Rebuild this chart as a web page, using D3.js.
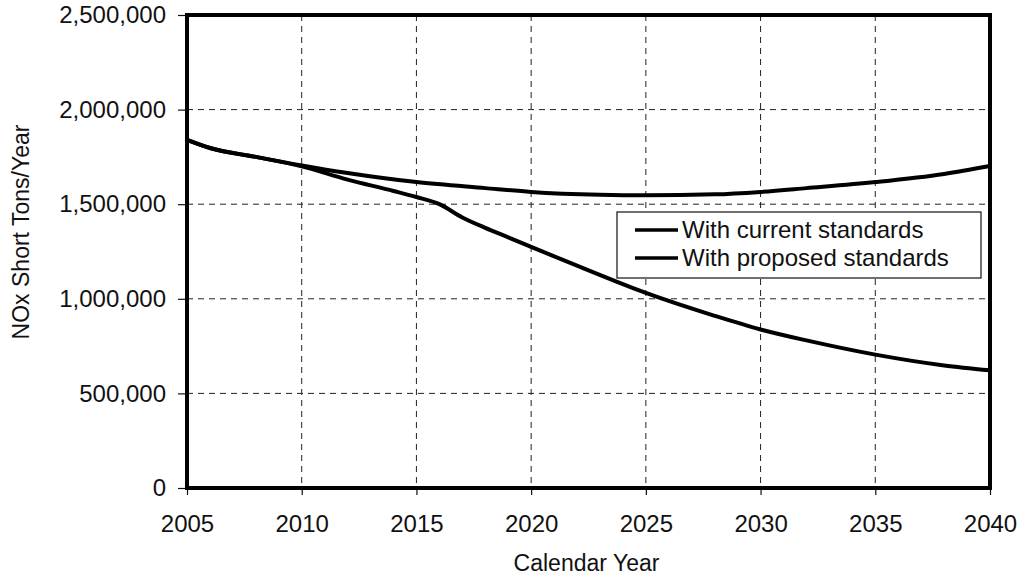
<!DOCTYPE html>
<html>
<head>
<meta charset="utf-8">
<script src="https://cdn.jsdelivr.net/npm/d3@7"></script>
<style>
  body { margin: 0; background: #fff; }
  text { font-family: "Liberation Sans", Arial, sans-serif; fill: #111; }
</style>
</head>
<body>
<div id="chart"></div>
<script>
// years and NOx tons
var currentYears = [2005, 2006, 2008, 2010, 2012, 2015, 2018, 2020, 2023, 2025, 2028, 2030, 2032, 2035, 2038, 2040];
var currentTons  = [1840000, 1797000, 1750000, 1705000, 1665000, 1617000, 1585000, 1565000, 1550000, 1547000, 1552000, 1565000, 1585000, 1617000, 1660000, 1702000];

var proposedYears = [2005, 2006, 2008, 2010, 2012, 2014, 2015, 2016, 2017, 2018, 2019, 2020, 2022, 2025, 2028, 2030, 2032, 2035, 2038, 2040];
var proposedTons  = [1840000, 1797000, 1750000, 1700000, 1630000, 1570000, 1538000, 1500000, 1430000, 1375000, 1325000, 1274000, 1175000, 1031000, 910000, 838000, 780000, 705000, 648000, 622000];

var xTicks = [2005, 2010, 2015, 2020, 2025, 2030, 2035, 2040];
var yTicks = [0, 500000, 1000000, 1500000, 2000000, 2500000];
var seriesNames = ["With current standards", "With proposed standards"];

var svgWidth = 1021;
var svgHeight = 577;
var margin = { left: 187, top: 15, right: 31, bottom: 89 };

var svg = d3.select("#chart").append("svg")
    .attr("width", svgWidth)
    .attr("height", svgHeight);

var xScale = d3.scaleLinear()
    .domain([2005, 2040])
    .range([margin.left, svgWidth - margin.right]);

var yScale = d3.scaleLinear()
    .domain([0, 2500000])
    .range([svgHeight - margin.bottom, margin.top]);

var x0 = xScale.range()[0], x1 = xScale.range()[1];
var yBot = yScale.range()[0], yTop = yScale.range()[1];

// dashed grid
svg.append("g").selectAll("line")
    .data(yTicks.slice(1, -1))
    .enter().append("line")
    .attr("x1", x0).attr("x2", x1)
    .attr("y1", d => yScale(d)).attr("y2", d => yScale(d))
    .attr("stroke", "#222").attr("stroke-width", 1)
    .attr("stroke-dasharray", "6,5");

svg.append("g").selectAll("line")
    .data(xTicks.slice(1, -1))
    .enter().append("line")
    .attr("x1", d => xScale(d)).attr("x2", d => xScale(d))
    .attr("y1", yTop).attr("y2", yBot)
    .attr("stroke", "#222").attr("stroke-width", 1)
    .attr("stroke-dasharray", "6,5");

// axes
var yAxis = d3.axisLeft(yScale).tickValues(yTicks).tickSize(9).tickPadding(12)
    .tickFormat(d3.format(","));
var xAxis = d3.axisBottom(xScale).tickValues(xTicks).tickSize(7).tickPadding(20)
    .tickFormat(d3.format("d"));

var gy = svg.append("g")
    .attr("transform", `translate(${x0}, 0)`)
    .call(yAxis);
var gx = svg.append("g")
    .attr("transform", `translate(0, ${yBot})`)
    .call(xAxis);

[gx, gy].forEach(function (g) {
    g.select(".domain").remove();
    g.selectAll(".tick line").attr("stroke", "#111").attr("stroke-width", 1.2);
    g.selectAll(".tick text")
        .attr("font-size", "24px")
        .attr("font-family", "Liberation Sans, Arial, sans-serif")
        .attr("fill", "#111");
});

// plot frame
svg.append("rect")
    .attr("x", x0).attr("y", yTop)
    .attr("width", x1 - x0).attr("height", yBot - yTop)
    .attr("fill", "none")
    .attr("stroke", "#000")
    .attr("stroke-width", 4);

// lines
var line = d3.line()
    .x(d => xScale(d[0]))
    .y(d => yScale(d[1]))
    .curve(d3.curveMonotoneX);

var currentData = currentYears.map((y, i) => [y, currentTons[i]]);
var proposedData = proposedYears.map((y, i) => [y, proposedTons[i]]);

[currentData, proposedData].forEach(function (data) {
    svg.append("path")
        .datum(data)
        .attr("d", line)
        .attr("fill", "none")
        .attr("stroke", "#000")
        .attr("stroke-width", 4)
        .attr("stroke-linejoin", "round");
});

// legend
var legend = svg.append("g");
legend.append("rect")
    .attr("x", 617).attr("y", 212)
    .attr("width", 364).attr("height", 66)
    .attr("fill", "#fff")
    .attr("stroke", "#111")
    .attr("stroke-width", 1.2);

seriesNames.forEach(function (name, i) {
    var cy = 230 + i * 28;
    legend.append("line")
        .attr("x1", 635).attr("x2", 678)
        .attr("y1", cy).attr("y2", cy)
        .attr("stroke", "#000").attr("stroke-width", 3.5);
    legend.append("text")
        .attr("x", 682).attr("y", cy + 8)
        .attr("font-size", "24px")
        .text(name);
});

// axis titles
svg.append("text")
    .attr("x", (x0 + x1) / 2 - 2)
    .attr("y", 571)
    .attr("text-anchor", "middle")
    .attr("font-size", "23px")
    .text("Calendar Year");

svg.append("text")
    .attr("transform", "rotate(-90)")
    .attr("x", -232)
    .attr("y", 29)
    .attr("text-anchor", "middle")
    .attr("font-size", "23px")
    .text("NOx Short Tons/Year");
</script>
</body>
</html>
